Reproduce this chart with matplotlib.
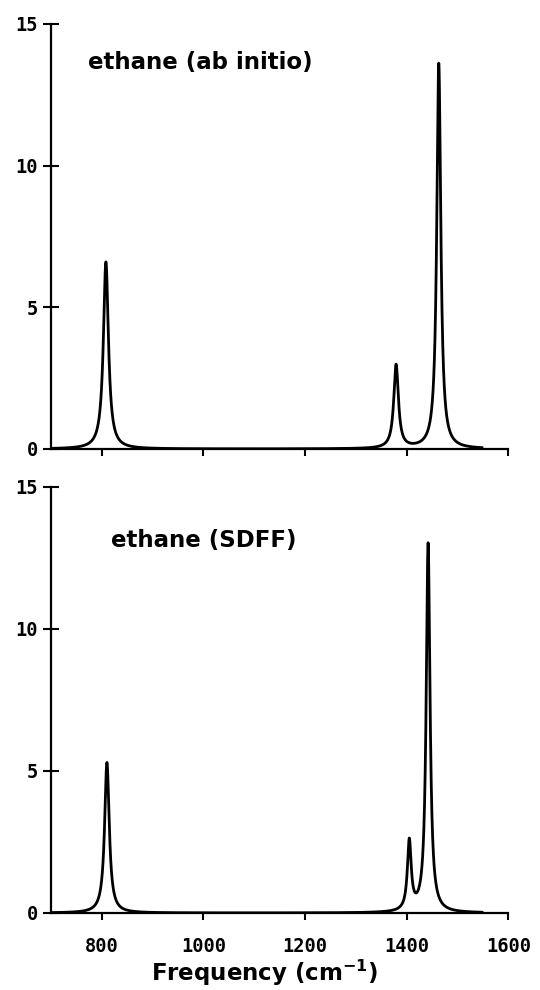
import numpy as np
import matplotlib
matplotlib.use("Agg")
import matplotlib.pyplot as plt

# peak lists: centre (cm-1), height, FWHM (cm-1)
abinitio_centers = [808, 1379, 1463]
abinitio_heights = [6.6, 2.95, 13.6]
abinitio_widths = [12, 11, 9.5]

sdff_centers = [810, 1405, 1442]
sdff_heights = [5.3, 2.45, 13.0]
sdff_widths = [11, 9, 9]

panel_titles = ['ethane (ab initio)', 'ethane (SDFF)']
x_ticks = [800, 1000, 1200, 1400, 1600]
y_ticks = [0, 5, 10, 15]
freq_start, freq_end = 700, 1548


def spectrum(freq, centers, heights, widths):
    y = np.zeros_like(freq)
    for c, h, w in zip(centers, heights, widths):
        y += h / (1 + ((freq - c) / (w / 2)) ** 2)
    return y


freq = np.linspace(freq_start, freq_end, 4000)

fig = plt.figure(figsize=(5.4, 9.9), dpi=100)
ax_top = fig.add_axes([0.0945, 0.5465, 0.847, 0.4293])
ax_bot = fig.add_axes([0.0945, 0.0778, 0.847, 0.4303])

panels = [
    (ax_top, abinitio_centers, abinitio_heights, abinitio_widths, (773, 13.4)),
    (ax_bot, sdff_centers, sdff_heights, sdff_widths, (818, 12.9)),
]

tick_font = {'family': 'DejaVu Sans Mono', 'weight': 'bold', 'size': 13.5}

for i, (ax, c, h, w, txt_pos) in enumerate(panels):
    ax.plot(freq, spectrum(freq, c, h, w), color='black', lw=2.0)
    ax.set_xlim(700, 1600)
    ax.set_ylim(0, 15)
    for s in ['top', 'right']:
        ax.spines[s].set_visible(False)
    for s in ['left', 'bottom']:
        ax.spines[s].set_linewidth(1.6)
    ax.set_xticks(x_ticks)
    ax.set_yticks(y_ticks)
    ax.tick_params(axis='y', direction='inout', length=11, width=1.5, pad=4)
    ax.tick_params(axis='x', direction='out', length=5, width=1.5, pad=12)
    ax.set_yticklabels([str(t) for t in y_ticks], fontdict=tick_font)
    if i == 0:
        ax.set_xticklabels([])
    else:
        ax.set_xticklabels([str(t) for t in x_ticks], fontdict=tick_font)
    ax.text(txt_pos[0], txt_pos[1], panel_titles[i], fontsize=16.5,
            fontweight='bold', ha='left', va='baseline')

ax_bot.set_xlabel(r'Frequency (cm$^{\mathbf{-1}}$)', fontsize=16.5,
                  fontweight='bold', labelpad=4)
ax_bot.xaxis.set_label_coords(0.466, -0.105)

fig.savefig('out.png', dpi=100)
